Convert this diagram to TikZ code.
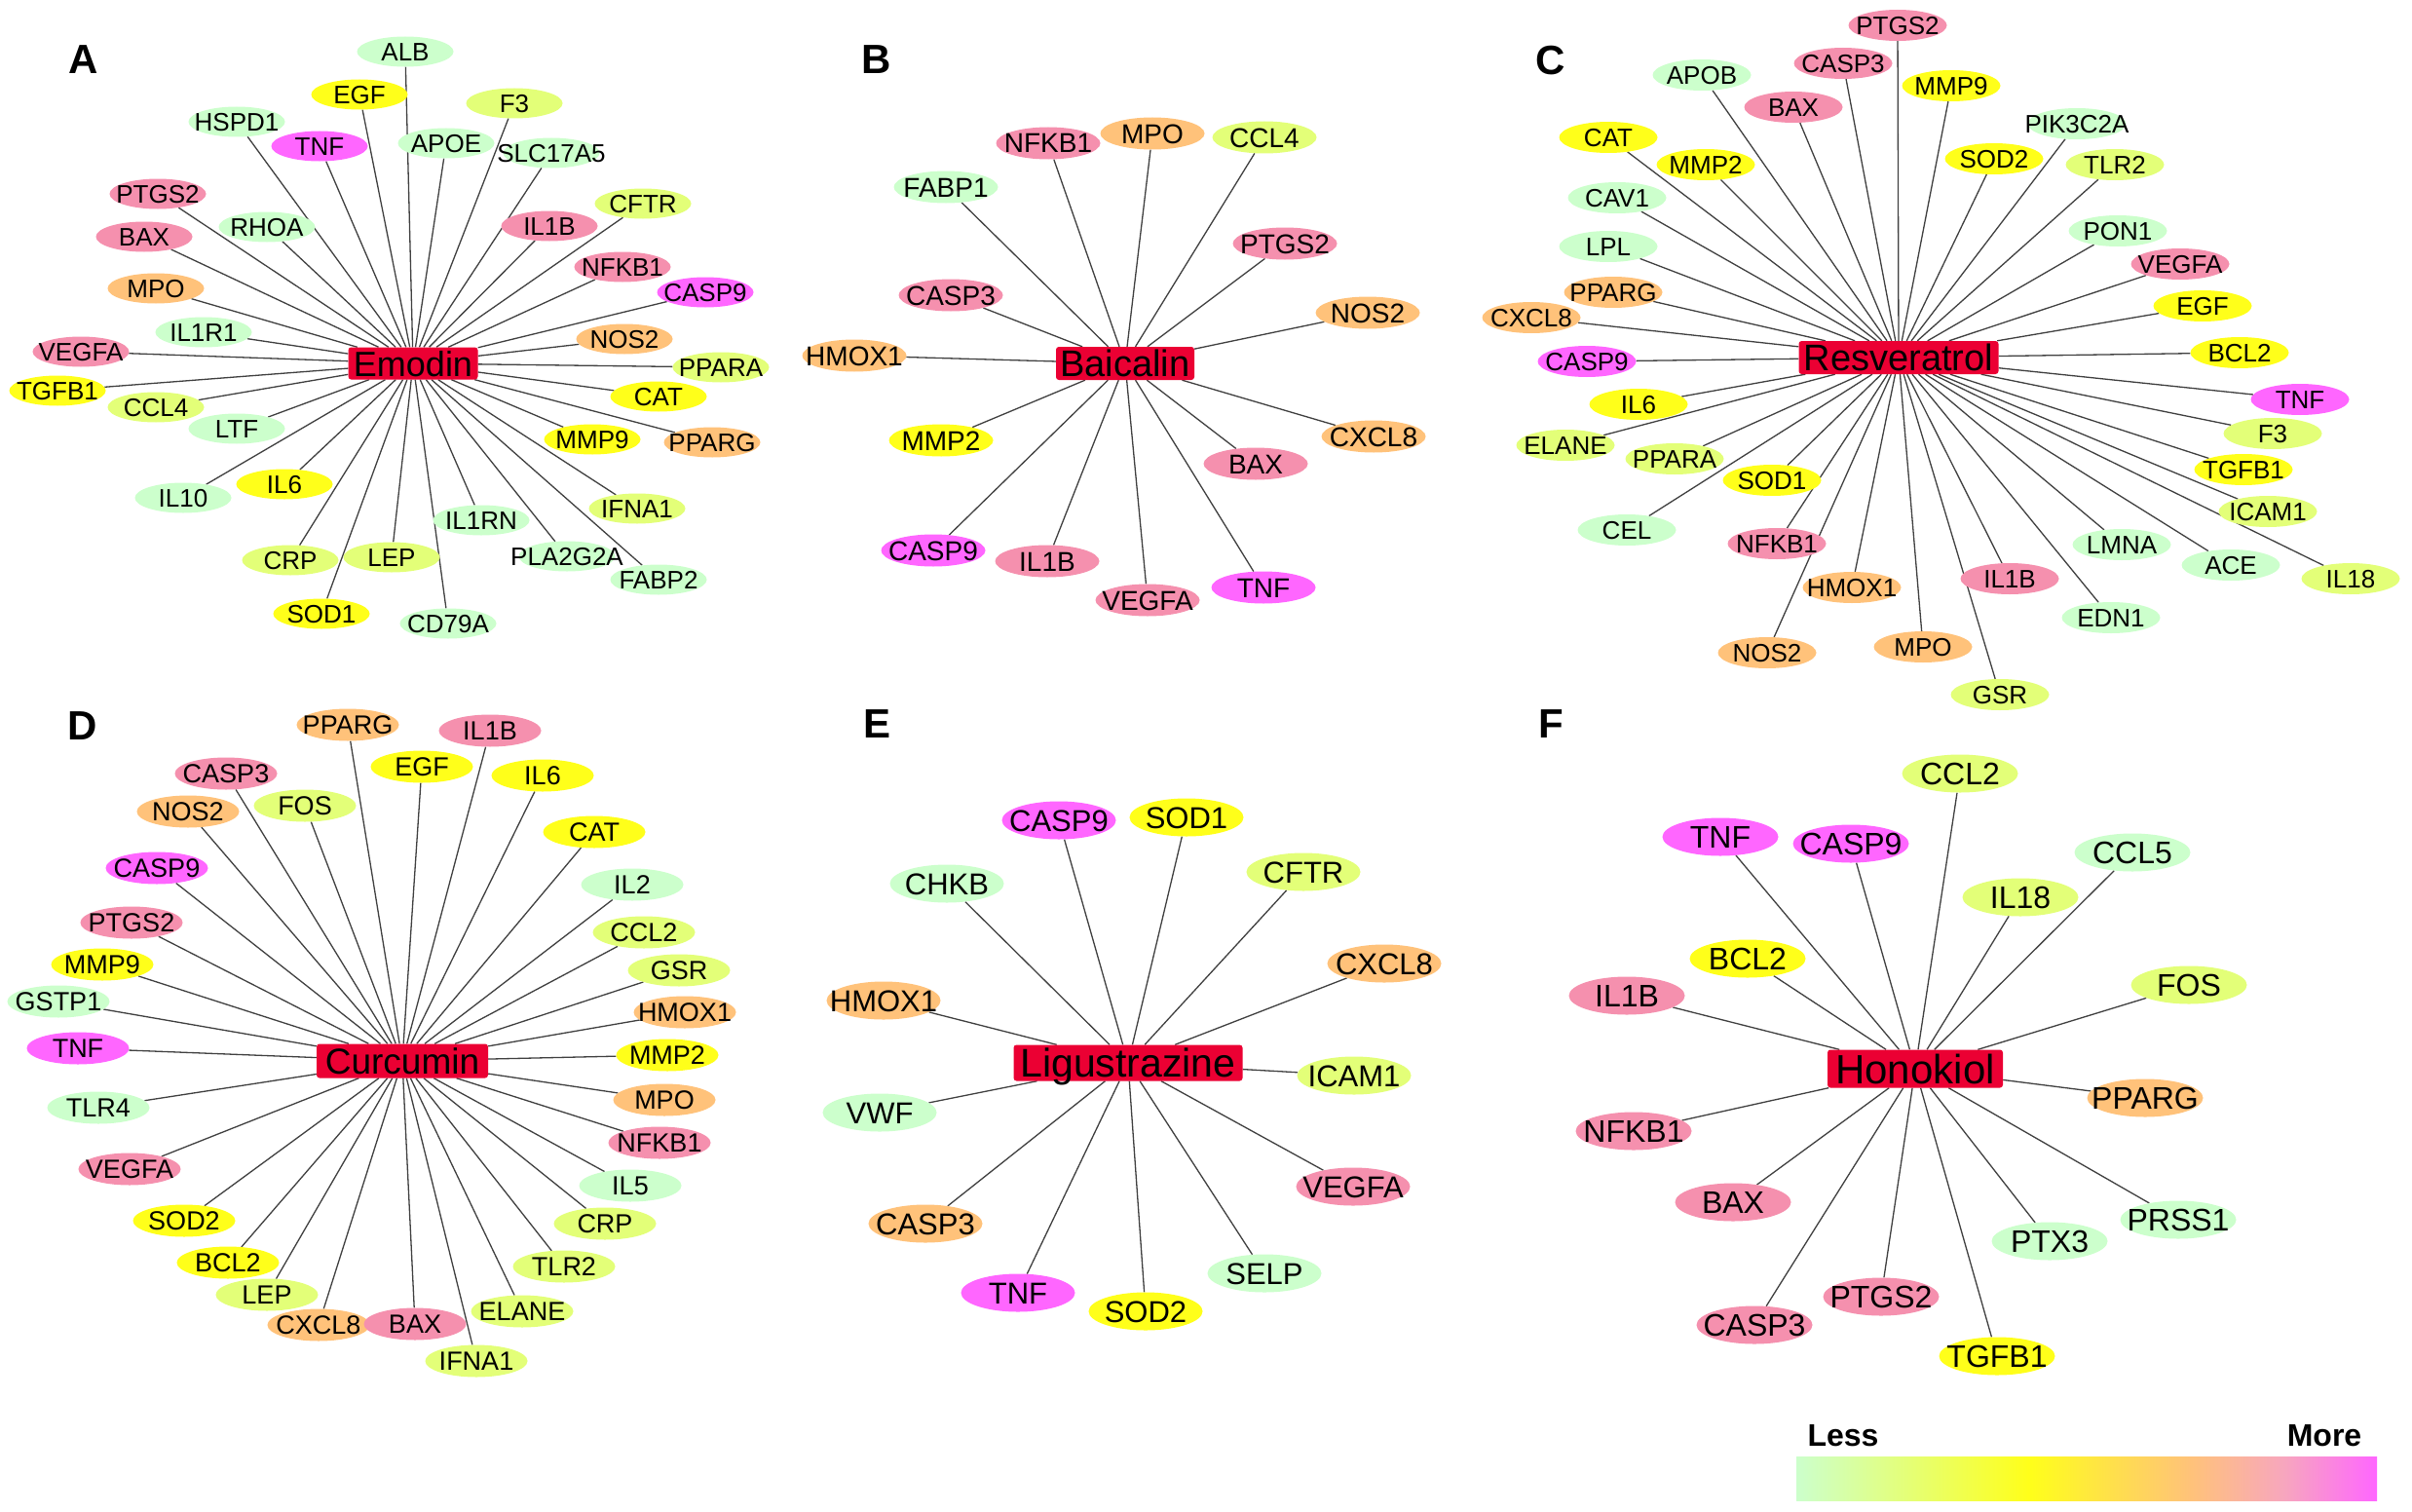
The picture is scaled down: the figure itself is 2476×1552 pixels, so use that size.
\documentclass[tikz,border=0pt]{standalone}
\usepackage{fontspec}
\setmainfont{Liberation Sans}
\usetikzlibrary{shapes.geometric,backgrounds}

\definecolor{lg}{HTML}{CCFFCC}
\definecolor{yg}{HTML}{E3FF78}
\definecolor{ye}{HTML}{FFFF1A}
\definecolor{og}{HTML}{FFC27A}
\definecolor{pk}{HTML}{F590AE}
\definecolor{mg}{HTML}{FF66FF}
\definecolor{drugred}{HTML}{EB0033}

\pgfdeclarehorizontalshading{legendbar}{100bp}{color(0bp)=(lg); color(25bp)=(lg); color(45bp)=(ye); color(59bp)=(og); color(67bp)=(pk!80!white); color(75bp)=(mg); color(100bp)=(mg)}

\tikzset{
  gene/.style={ellipse, inner sep=0pt, text depth=0pt},
  hub/.style={rectangle, fill=drugred, rounded corners=3pt, inner sep=0pt, text depth=0pt},
  link/.style={draw=black!75, line width=1.3pt},
  panel/.style={font=\fontsize{42}{42}\selectfont\bfseries},
  legendtext/.style={font=\fontsize{32}{32}\selectfont\bfseries}
}

\begin{document}
\begin{tikzpicture}[x=1pt,y=-1pt]
\useasboundingbox (0,0) rectangle (2476,1552);
\begin{pgfonlayer}{background}
  \fill[white] (0,0) rectangle (2476,1552);
\end{pgfonlayer}

% A: Emodin
\node[panel] (labA) at (86,61) {A};
\node[hub, minimum width=133pt, minimum height=33pt, text height=26pt, font=\fontsize{36}{36}\selectfont] (emodin) at (424,373) {Emodin};
\begin{scope}[gene/.append style={minimum width=99pt, minimum height=31pt, text height=18.7pt, font=\fontsize{26}{26}\selectfont}]
\foreach \g/\x/\y/\c in {ALB/416/53/lg, EGF/369/97/ye, F3/528/106/yg, HSPD1/243/125/lg, TNF/328/150/mg, APOE/458/147/lg, SLC17A5/566/157/lg, PTGS2/162/199/pk, RHOA/274/233/lg, IL1B/564/232/pk, CFTR/660/209/yg, BAX/148/243/pk, NFKB1/639/274/pk, CASP9/724/300/mg, MPO/160/296/og, IL1R1/209/341/lg, NOS2/641/348/og, VEGFA/83/361/pk, PPARA/740/377/yg, TGFB1/59/401/ye, CAT/676/407/ye, CCL4/160/418/yg, LTF/243/440/lg, MMP9/608/451/ye, PPARG/731/454/og, IL10/188/511/lg, IL6/292/497/ye, IFNA1/654/522/yg, IL1RN/494/534/lg, CRP/298/575/yg, LEP/402/572/yg, PLA2G2A/582/571/lg, FABP2/676/595/lg, SOD1/330/630/ye, CD79A/460/640/lg}{
  \node[gene, fill=\c] (a\g) at (\x,\y) {\makebox[0pt]{\g}};
  \begin{pgfonlayer}{background}
    \draw[link] (emodin) -- (a\g);
  \end{pgfonlayer}
}
\end{scope}

% B: Baicalin
\node[panel] (labB) at (900,61) {B};
\node[hub, minimum width=142pt, minimum height=34pt, text height=27.4pt, font=\fontsize{38}{38}\selectfont] (baicalin) at (1155,373) {Baicalin};
\begin{scope}[gene/.append style={minimum width=107pt, minimum height=33pt, text height=20pt, font=\fontsize{28}{28}\selectfont}]
\foreach \g/\x/\y/\c in {NFKB1/1076/147/pk, MPO/1183/137/og, CCL4/1298/141/yg, FABP1/971/192/lg, PTGS2/1319/250/pk, CASP3/976/303/pk, NOS2/1404/321/og, HMOX1/877/365/og, MMP2/966/452/ye, CXCL8/1410/448/og, BAX/1289/476/pk, CASP9/958/565/mg, IL1B/1075/576/pk, VEGFA/1178/616/pk, TNF/1297/603/mg}{
  \node[gene, fill=\c] (b\g) at (\x,\y) {\makebox[0pt]{\g}};
  \begin{pgfonlayer}{background}
    \draw[link] (baicalin) -- (b\g);
  \end{pgfonlayer}
}
\end{scope}

% C: Resveratrol
\node[panel] (labC) at (1592,62) {C};
\node[hub, minimum width=205pt, minimum height=34pt, text height=27.4pt, font=\fontsize{38}{38}\selectfont] (resveratrol) at (1949,367) {Resveratrol};
\begin{scope}[gene/.append style={minimum width=101pt, minimum height=32pt, text height=18.7pt, font=\fontsize{26}{26}\selectfont}]
\foreach \g/\x/\y/\c in {PTGS2/1948/26/pk, CASP3/1892/65/pk, APOB/1747/77/lg, MMP9/2003/88/ye, BAX/1841/110/pk, PIK3C2A/2132/127/lg, CAT/1651/141/ye, MMP2/1751/169/ye, SOD2/2047/163/ye, TLR2/2171/169/yg, CAV1/1660/203/lg, PON1/2174/237/lg, LPL/1651/253/lg, VEGFA/2238/271/pk, PPARG/1656/300/og, CXCL8/1572/326/og, EGF/2261/314/ye, CASP9/1629/371/mg, BCL2/2299/362/ye, TNF/2361/410/mg, IL6/1682/415/ye, F3/2333/445/yg, ELANE/1607/457/yg, PPARA/1719/471/yg, TGFB1/2303/482/ye, SOD1/1819/493/ye, ICAM1/2328/525/yg, CEL/1670/544/lg, NFKB1/1824/558/pk, LMNA/2178/559/lg, ACE/2290/580/lg, IL18/2413/594/yg, HMOX1/1901/603/og, IL1B/2063/594/pk, EDN1/2167/634/lg, NOS2/1814/670/og, MPO/1974/664/og, GSR/2053/713/yg}{
  \node[gene, fill=\c] (c\g) at (\x,\y) {\makebox[0pt]{\g}};
  \begin{pgfonlayer}{background}
    \draw[link] (resveratrol) -- (c\g);
  \end{pgfonlayer}
}
\end{scope}

% D: Curcumin
\node[panel] (labD) at (85,745) {D};
\node[hub, minimum width=176pt, minimum height=35pt, text height=26.6pt, font=\fontsize{37}{37}\selectfont] (curcumin) at (413,1089) {Curcumin};
\begin{scope}[gene/.append style={minimum width=105pt, minimum height=33pt, text height=19.4pt, font=\fontsize{27}{27}\selectfont}]
\foreach \g/\x/\y/\c in {PPARG/357/744/og, IL1B/503/750/pk, CASP3/232/794/pk, EGF/433/787/ye, IL6/557/796/ye, NOS2/193/833/og, FOS/313/827/yg, CAT/610/854/ye, CASP9/161/891/mg, IL2/649/908/lg, PTGS2/135/947/pk, CCL2/661/957/yg, MMP9/105/990/ye, GSR/697/996/yg, GSTP1/60/1028/lg, HMOX1/703/1039/og, TNF/80/1076/mg, MMP2/685/1083/ye, TLR4/101/1137/lg, MPO/682/1129/og, NFKB1/677/1173/pk, VEGFA/133/1200/pk, IL5/647/1217/lg, SOD2/189/1253/ye, CRP/621/1256/yg, BCL2/234/1296/ye, TLR2/579/1300/yg, LEP/274/1329/yg, ELANE/536/1346/yg, CXCL8/327/1360/og, BAX/426/1359/pk, IFNA1/489/1397/yg}{
  \node[gene, fill=\c] (d\g) at (\x,\y) {\makebox[0pt]{\g}};
  \begin{pgfonlayer}{background}
    \draw[link] (curcumin) -- (d\g);
  \end{pgfonlayer}
}
\end{scope}

% E: Ligustrazine
\node[panel] (labE) at (900,743) {E};
\node[hub, minimum width=235pt, minimum height=37pt, text height=29.5pt, font=\fontsize{41}{41}\selectfont] (ligustrazine) at (1158,1091) {Ligustrazine};
\begin{scope}[gene/.append style={minimum width=117pt, minimum height=39pt, text height=22.3pt, font=\fontsize{31}{31}\selectfont}]
\foreach \g/\x/\y/\c in {CASP9/1087/842/mg, SOD1/1218/839/ye, CHKB/972/907/lg, CFTR/1338/895/yg, CXCL8/1421/989/og, HMOX1/907/1027/og, ICAM1/1390/1104/yg, VWF/903/1142/lg, VEGFA/1389/1218/pk, CASP3/950/1256/og, SELP/1298/1307/lg, TNF/1045/1327/mg, SOD2/1176/1346/ye}{
  \node[gene, fill=\c] (e\g) at (\x,\y) {\makebox[0pt]{\g}};
  \begin{pgfonlayer}{background}
    \draw[link] (ligustrazine) -- (e\g);
  \end{pgfonlayer}
}
\end{scope}

% F: Honokiol
\node[panel] (labF) at (1592,743) {F};
\node[hub, minimum width=180pt, minimum height=39pt, text height=30.2pt, font=\fontsize{42}{42}\selectfont] (honokiol) at (1966,1097) {Honokiol};
\begin{scope}[gene/.append style={minimum width=119pt, minimum height=39pt, text height=23pt, font=\fontsize{32}{32}\selectfont}]
\foreach \g/\x/\y/\c in {CCL2/2012/794/yg, TNF/1766/859/mg, CASP9/1900/866/mg, CCL5/2189/875/lg, IL18/2074/921/yg, BCL2/1794/984/ye, IL1B/1670/1022/pk, FOS/2247/1011/yg, PPARG/2202/1127/og, NFKB1/1677/1161/pk, BAX/1779/1234/pk, PRSS1/2236/1252/lg, PTX3/2104/1274/lg, PTGS2/1931/1331/pk, CASP3/1801/1360/pk, TGFB1/2050/1392/ye}{
  \node[gene, fill=\c] (f\g) at (\x,\y) {\makebox[0pt]{\g}};
  \begin{pgfonlayer}{background}
    \draw[link] (honokiol) -- (f\g);
  \end{pgfonlayer}
}
\end{scope}

% legend
\node[legendtext] (less) at (1892,1474) {Less};
\node[legendtext] (more) at (2386,1474) {More};
\shade[shading=legendbar] (1844,1495) rectangle (2440,1540);

\end{tikzpicture}
\end{document}
